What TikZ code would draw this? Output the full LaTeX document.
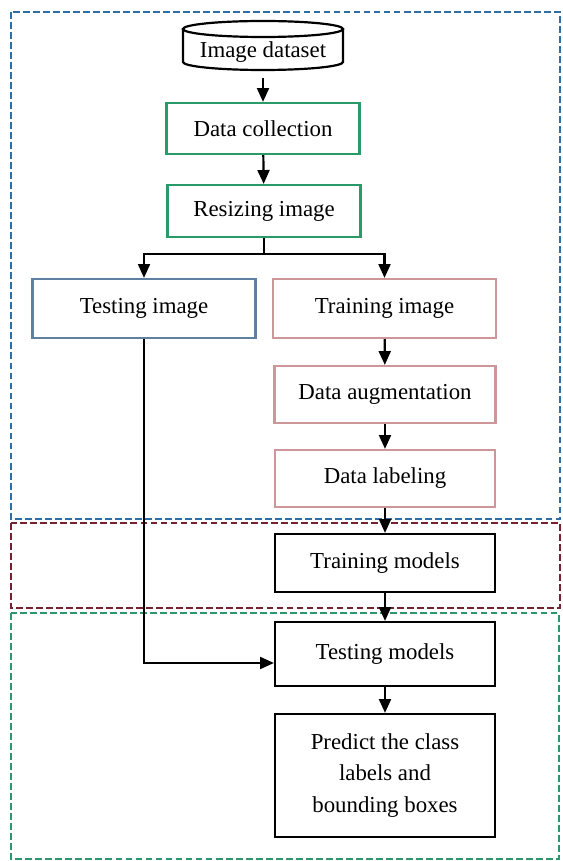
\documentclass[tikz,border=0pt]{standalone}
\usepackage{fontspec}
\setmainfont{Liberation Serif}
\usetikzlibrary{arrows.meta}

\definecolor{regblue}{RGB}{47,110,165}
\definecolor{regred}{RGB}{115,35,45}
\definecolor{reggreen}{RGB}{45,150,110}
\definecolor{boxgreen}{RGB}{40,155,105}
\definecolor{boxblue}{RGB}{95,128,160}
\definecolor{boxpink}{RGB}{205,150,155}

\tikzset{
    flowbox/.style={draw, line width=1.25pt, align=center, inner sep=2pt,
        font=\fontsize{13}{18}\selectfont},
    region/.style={line width=1.1pt, dash pattern=on 3.9pt off 1.8pt},
    arr/.style={line width=1.25pt, -{Triangle[width=6.8pt, length=7.9pt]}},
    link/.style={line width=1.25pt}
}

\begin{document}
\begin{tikzpicture}[x=0.02cm, y=-0.02cm]
            \useasboundingbox (0, 0) rectangle (562, 861);

            % the three stages
            \draw[region, regblue] (11, 12) rectangle (560, 519);
            \draw[region, regred] (11, 523) rectangle (560, 608);
            \draw[region, reggreen] (11, 613) rectangle (559, 859);

            % dataset drum
            \node[minimum width=3.2cm, minimum height=1.04cm, inner sep=0pt,
                font=\fontsize{13}{18}\selectfont] (data) at (263, 52) {Image dataset};
            \draw[link] (263, 29) ellipse [x radius=1.6cm, y radius=0.16cm];
            \draw[link] (183, 29) -- (183, 62) arc [start angle=180, end angle=360, x radius=1.6cm, y radius=0.16cm] -- (343, 29);

            \node[flowbox, boxgreen, text=black, minimum width=3.86cm, minimum height=1.02cm] (coll) at (263, 128.5) {Data collection};
            \node[flowbox, boxgreen, text=black, minimum width=3.86cm, minimum height=1.04cm] (resize) at (264, 211) {Resizing image};

            \node[flowbox, boxblue, text=black, minimum width=4.46cm, minimum height=1.18cm] (testimg) at (144, 308.5) {Testing image};
            \node[flowbox, boxpink, text=black, minimum width=4.46cm, minimum height=1.18cm] (trainimg) at (384.5, 308.5) {Training image};
            \node[flowbox, boxpink, text=black, minimum width=4.42cm, minimum height=1.14cm] (augment) at (385, 394.5) {Data augmentation};
            \node[flowbox, boxpink, text=black, minimum width=4.4cm, minimum height=1.14cm] (label) at (385, 478.5) {Data labeling};

            \node[flowbox, minimum width=4.4cm, minimum height=1.16cm] (trainmod) at (385, 563) {Training models};
            \node[flowbox, minimum width=4.4cm, minimum height=1.28cm] (testmod) at (385, 654) {Testing models};
            \node[flowbox, minimum width=4.4cm, minimum height=2.46cm] (predict) at (385, 775.5) {Predict the class\\labels and\\bounding boxes};

            \draw[arr] (data) -- (coll);
            \draw[arr] (coll) -- (resize);

            \coordinate (split) at (264, 254);
            \draw[link] (resize.south) -- (split);
            \draw[arr] (split) -| (testimg.north);
            \draw[arr] (split) -| (trainimg.north);

            \draw[arr] (trainimg) -- (augment);
            \draw[arr] (augment) -- (label);
            \draw[arr] (label) -- (trainmod);
            \draw[arr] (trainmod) -- (testmod);
            \draw[arr] (testmod) -- (predict);
            \draw[arr] (testimg.south) |- ([yshift=-0.18cm]testmod.west);
        \end{tikzpicture}
\end{document}
